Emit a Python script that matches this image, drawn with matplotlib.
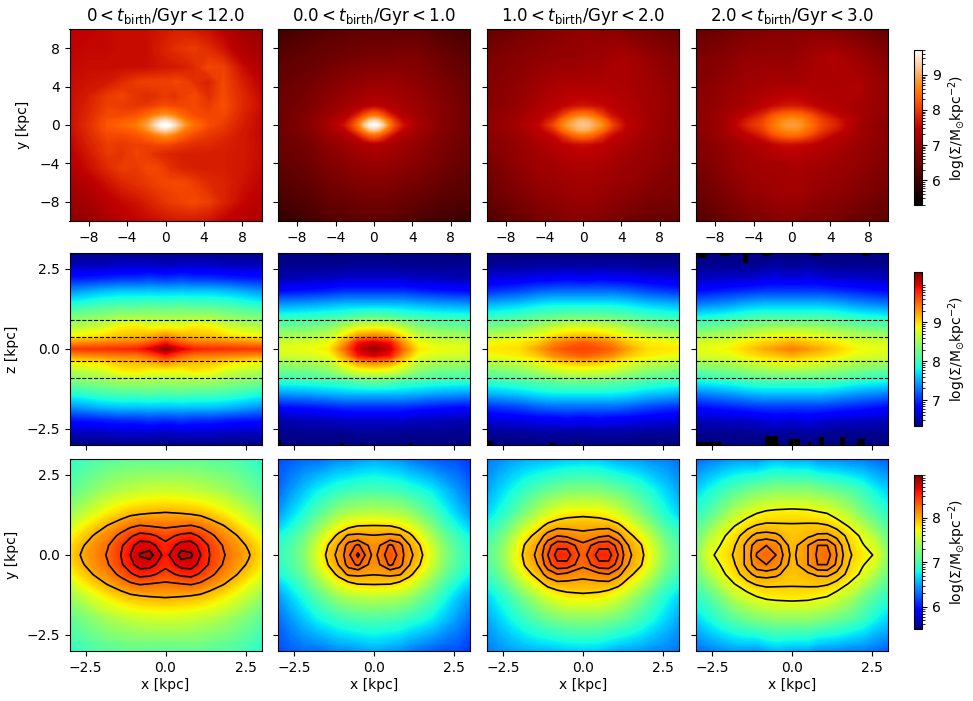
import numpy as np
import matplotlib
matplotlib.use("Agg")
import matplotlib.pyplot as plt
from matplotlib.cm import ScalarMappable
from matplotlib.colors import Normalize

W, H = 973, 701
col_left = [69.5, 278, 487, 696]
col_w = 192
row_top = [29, 253, 459]
row_h = 192

titles = [r"$0{<}t_{\rm birth}/{\rm Gyr}{<}12.0$", r"$0.0{<}t_{\rm birth}/{\rm Gyr}{<}1.0$",
          r"$1.0{<}t_{\rm birth}/{\rm Gyr}{<}2.0$", r"$2.0{<}t_{\rm birth}/{\rm Gyr}{<}3.0$"]
cbar_label = r"${\rm log}(\Sigma/{\rm M}_{\odot}{\rm kpc}^{-2})$"

# ---- top row: face-on maps, log surface density ----
xy_all = [-10, -8, -6, -4.5, -3, -2, -1, -0.5, 0, 0.5, 1, 2, 3, 4.5, 6, 8, 10]
yy_all = [10, 8, 6, 4.5, 3, 2, 1, 0.5, 0, -0.5, -1, -2, -3, -4.5, -6, -8, -10]
face_all = [
 [7.45,7.5,7.55,7.6,7.6,7.6,7.65,7.68,7.7,7.72,7.75,7.75,7.7,7.6,7.45,7.2,7.0],
 [7.5,7.55,7.55,7.6,7.6,7.6,7.7,7.75,7.8,7.85,7.9,7.95,8.0,7.85,7.65,7.3,7.15],
 [7.55,7.6,7.6,7.6,7.6,7.6,7.65,7.68,7.7,7.7,7.72,7.75,7.85,8.1,8.05,7.6,7.3],
 [7.6,7.65,7.7,7.85,8.0,8.05,8.05,8.05,8.05,8.05,8.1,8.05,7.9,7.78,8.1,7.75,7.45],
 [7.6,7.75,8.0,8.08,7.92,7.85,7.9,7.95,7.98,7.95,7.92,8.05,8.12,7.88,8.12,7.85,7.55],
 [7.6,7.8,8.05,8.0,7.95,7.98,8.05,8.1,8.12,8.1,8.08,8.08,8.1,7.98,8.18,7.85,7.6],
 [7.6,7.85,8.12,8.1,8.2,8.4,8.65,8.75,8.8,8.72,8.6,8.32,8.15,8.08,8.1,7.8,7.55],
 [7.6,7.88,8.18,8.25,8.4,8.7,9.1,9.3,9.4,9.25,9.05,8.6,8.3,8.12,8.05,7.78,7.55],
 [7.6,7.9,8.22,8.38,8.55,8.85,9.4,9.68,9.75,9.68,9.4,8.8,8.45,8.15,8.0,7.75,7.55],
 [7.58,7.88,8.18,8.25,8.4,8.7,9.1,9.3,9.4,9.25,9.05,8.55,8.3,8.05,7.95,7.72,7.55],
 [7.55,7.85,8.12,8.12,8.2,8.38,8.6,8.72,8.78,8.7,8.58,8.3,8.12,7.98,7.88,7.7,7.55],
 [7.5,7.78,8.02,7.98,8.05,8.05,8.1,8.1,8.1,8.08,8.02,7.95,7.88,7.85,7.78,7.7,7.58],
 [7.45,7.7,7.98,7.92,8.08,8.0,7.88,7.85,7.82,7.8,7.78,7.75,7.75,7.75,7.75,7.7,7.58],
 [7.35,7.6,7.85,8.02,7.98,8.1,8.1,8.05,7.98,7.9,7.85,7.78,7.75,7.75,7.75,7.7,7.55],
 [7.2,7.4,7.65,7.82,7.92,7.98,8.05,8.08,8.1,8.1,8.12,8.1,8.0,7.85,7.8,7.65,7.5],
 [7.05,7.2,7.42,7.55,7.65,7.75,7.85,7.9,7.95,8.0,8.02,8.08,8.12,8.02,7.8,7.55,7.4],
 [6.95,7.05,7.25,7.4,7.5,7.55,7.6,7.62,7.65,7.68,7.7,7.7,7.7,7.65,7.5,7.4,7.3],
]
xf = [-10, -7, -4.5, -3, -2, -1, -0.5, 0, 0.5, 1, 2, 3, 4.5, 7, 10]
yf = [10, 7, 4, 2, 1, 0.5, 0, -0.5, -1, -2, -4, -7, -10]
face_0_1 = [
 [6.0,6.2,6.35,6.35,6.4,6.42,6.42,6.42,6.42,6.42,6.42,6.42,6.4,6.25,6.1],
 [6.35,6.45,6.55,6.6,6.65,6.67,6.68,6.7,6.7,6.7,6.7,6.75,6.75,6.55,6.35],
 [6.5,6.62,6.85,6.95,7.0,7.05,7.08,7.1,7.1,7.1,7.1,7.05,6.95,6.75,6.5],
 [6.55,6.7,7.0,7.15,7.25,7.35,7.38,7.45,7.4,7.35,7.3,7.2,7.1,6.85,6.55],
 [6.55,6.8,7.1,7.35,7.65,8.15,8.4,8.5,8.4,8.15,7.65,7.35,7.15,6.85,6.55],
 [6.55,6.8,7.2,7.5,8.0,8.75,9.15,9.3,9.15,8.75,8.0,7.5,7.2,6.85,6.55],
 [6.55,6.8,7.25,7.65,8.2,9.2,9.6,9.7,9.6,9.2,8.2,7.65,7.25,6.85,6.5],
 [6.55,6.8,7.2,7.5,8.0,8.7,9.1,9.25,9.1,8.7,8.0,7.5,7.15,6.85,6.55],
 [6.55,6.75,7.1,7.3,7.6,8.1,8.35,8.45,8.35,8.1,7.6,7.3,7.1,6.8,6.55],
 [6.5,6.65,6.95,7.1,7.2,7.3,7.33,7.4,7.33,7.3,7.2,7.1,7.0,6.75,6.5],
 [6.4,6.55,6.8,6.9,7.0,7.0,7.03,7.05,7.05,7.05,7.0,6.95,6.85,6.65,6.45],
 [6.2,6.35,6.55,6.6,6.65,6.7,6.7,6.7,6.7,6.7,6.65,6.6,6.55,6.4,6.3],
 [5.8,6.05,6.25,6.3,6.35,6.38,6.38,6.38,6.38,6.38,6.35,6.3,6.2,6.05,5.95],
]
face_1_2 = [
 [6.45,6.6,6.75,6.85,6.9,6.95,6.95,6.95,6.95,6.95,6.9,6.9,6.8,6.65,6.5],
 [6.7,6.85,6.95,7.0,7.0,7.0,7.03,7.05,7.08,7.1,7.1,7.2,7.25,7.0,6.8],
 [6.8,6.95,7.15,7.25,7.3,7.3,7.3,7.3,7.3,7.3,7.3,7.3,7.25,7.15,6.9],
 [6.85,7.0,7.3,7.4,7.5,7.6,7.62,7.65,7.62,7.6,7.55,7.45,7.35,7.15,6.9],
 [6.9,7.1,7.4,7.65,8.05,8.45,8.55,8.6,8.55,8.45,8.05,7.65,7.4,7.15,6.9],
 [6.9,7.12,7.45,7.9,8.5,8.85,9.0,9.05,9.0,8.85,8.5,7.9,7.45,7.15,6.9],
 [6.9,7.15,7.55,8.1,8.7,9.0,9.15,9.2,9.15,9.0,8.7,8.1,7.5,7.15,6.85],
 [6.9,7.12,7.45,7.9,8.45,8.82,8.98,9.02,8.98,8.82,8.45,7.9,7.45,7.12,6.9],
 [6.85,7.05,7.4,7.6,8.0,8.4,8.5,8.55,8.5,8.4,8.0,7.6,7.4,7.1,6.9],
 [6.8,7.0,7.25,7.4,7.5,7.55,7.58,7.6,7.58,7.55,7.5,7.4,7.25,7.05,6.85],
 [6.65,6.95,7.15,7.2,7.25,7.3,7.3,7.3,7.3,7.3,7.25,7.2,7.1,7.0,6.8],
 [6.5,6.75,6.95,7.0,7.05,7.1,7.1,7.1,7.1,7.1,7.05,7.0,6.95,6.8,6.7],
 [6.2,6.45,6.65,6.75,6.8,6.85,6.85,6.85,6.85,6.85,6.8,6.7,6.6,6.5,6.45],
]
face_2_3 = [
 [6.45,6.6,6.75,6.8,6.85,6.85,6.85,6.85,6.85,6.85,6.85,6.85,6.8,6.65,6.4],
 [6.7,6.85,7.0,7.0,7.0,7.0,7.0,7.0,7.05,7.1,7.2,7.25,7.3,7.1,6.8],
 [6.8,7.0,7.15,7.2,7.25,7.25,7.25,7.25,7.25,7.25,7.25,7.25,7.25,7.3,6.95],
 [6.85,7.05,7.3,7.45,7.55,7.65,7.68,7.7,7.68,7.65,7.55,7.4,7.35,7.2,6.95],
 [6.85,7.15,7.55,7.85,8.2,8.4,8.45,8.48,8.45,8.4,8.15,7.85,7.55,7.2,6.9],
 [6.85,7.15,7.75,8.05,8.4,8.65,8.72,8.75,8.72,8.65,8.35,8.05,7.75,7.2,6.85],
 [6.8,7.15,7.85,8.1,8.5,8.75,8.82,8.85,8.82,8.75,8.45,8.1,7.8,7.15,6.8],
 [6.85,7.15,7.7,8.02,8.38,8.62,8.7,8.72,8.7,8.62,8.32,8.02,7.7,7.15,6.85],
 [6.8,7.15,7.5,7.8,8.15,8.35,8.42,8.45,8.42,8.35,8.1,7.8,7.5,7.15,6.85],
 [6.75,7.0,7.25,7.35,7.5,7.6,7.6,7.6,7.58,7.55,7.5,7.4,7.3,7.05,6.85],
 [6.65,6.95,7.15,7.2,7.2,7.2,7.22,7.25,7.25,7.25,7.2,7.2,7.1,7.0,6.75],
 [6.5,6.75,7.0,7.05,7.1,7.15,7.15,7.15,7.15,7.15,7.05,7.0,6.95,6.8,6.6],
 [6.2,6.5,6.7,6.75,6.8,6.85,6.85,6.85,6.82,6.8,6.75,6.7,6.65,6.5,6.4],
]

# ---- middle row: edge-on maps; the profile is read for x>=0, z>=0 ----
x_edge = [0, 0.5, 0.9, 1.4, 2, 3]
z_edge = [0, 0.2, 0.4, 0.7, 1, 1.4, 1.8, 2.2, 2.6, 3]
edge_all = [
 [10.25,9.95,9.8,9.75,9.72,9.68],
 [9.8,9.55,9.42,9.42,9.38,9.3],
 [9.35,9.2,9.15,9.12,9.0,8.88],
 [8.85,8.85,8.95,8.9,8.7,8.55],
 [8.5,8.5,8.5,8.5,8.4,8.3],
 [8.05,8.1,8.05,8.05,8.0,7.85],
 [7.6,7.6,7.6,7.6,7.55,7.4],
 [7.0,7.05,7.0,7.0,6.95,6.9],
 [6.55,6.6,6.6,6.6,6.55,6.55],
 [6.36,6.36,6.36,6.36,6.36,6.36],
]
edge_0_1 = [
 [10.2,10.0,9.5,8.95,8.85,8.8],
 [10.0,9.85,9.3,8.85,8.75,8.7],
 [9.4,9.3,9.0,8.65,8.55,8.5],
 [8.8,8.75,8.6,8.35,8.25,8.2],
 [8.2,8.15,8.05,8.0,7.95,7.9],
 [7.55,7.55,7.55,7.5,7.45,7.4],
 [7.0,7.0,7.0,6.95,6.9,6.85],
 [6.6,6.6,6.6,6.55,6.55,6.5],
 [6.42,6.42,6.4,6.4,6.4,6.4],
 [6.34,6.34,6.34,6.34,6.34,6.34],
]
edge_1_2 = [
 [9.65,9.6,9.5,9.25,9.0,8.95],
 [9.55,9.45,9.35,9.1,8.95,8.85],
 [9.15,9.1,9.0,8.85,8.7,8.6],
 [8.75,8.7,8.65,8.5,8.35,8.25],
 [8.25,8.25,8.2,8.15,8.05,7.95],
 [7.75,7.75,7.75,7.7,7.6,7.5],
 [7.25,7.25,7.25,7.2,7.1,7.0],
 [6.75,6.8,6.75,6.75,6.7,6.65],
 [6.45,6.45,6.45,6.45,6.42,6.42],
 [6.34,6.34,6.34,6.34,6.34,6.34],
]
edge_2_3 = [
 [9.4,9.3,9.2,9.05,8.9,8.8],
 [9.2,9.1,9.05,8.95,8.8,8.75],
 [8.9,8.85,8.8,8.7,8.6,8.5],
 [8.45,8.45,8.4,8.35,8.25,8.15],
 [8.05,8.05,8.05,8.0,7.9,7.8],
 [7.55,7.55,7.55,7.5,7.4,7.3],
 [7.05,7.05,7.05,7.0,6.95,6.85],
 [6.65,6.7,6.65,6.6,6.6,6.55],
 [6.42,6.45,6.42,6.4,6.4,6.4],
 [6.34,6.34,6.34,6.34,6.34,6.34],
]
z_cuts = [-0.9, -0.39, 0.39, 0.9]

# empty bins along the top and bottom edges of the edge-on maps: x centre, x width, depth in z
empty_top = [[],
             [(-1.3, 0.1, 0.07), (0.45, 0.1, 0.07), (2.6, 0.1, 0.07)],
             [],
             [(-2.8, 0.26, 0.15), (-2.1, 0.3, 0.1), (-1.44, 0.16, 0.3), (-0.8, 0.3, 0.08), (0.75, 0.3, 0.1), (2.3, 0.2, 0.08)]]
empty_bot = [[],
             [(-2.95, 0.1, 0.15), (-1.0, 0.1, 0.07), (-0.38, 0.08, 0.07), (1.15, 0.1, 0.05)],
             [(-2.9, 0.16, 0.12), (-0.95, 0.16, 0.07), (-0.2, 0.1, 0.05)],
             [(-2.58, 0.76, 0.1), (-0.64, 0.42, 0.28), (0.08, 0.36, 0.2), (0.55, 0.1, 0.1), (0.92, 0.16, 0.25), (1.58, 0.16, 0.25), (2.15, 0.26, 0.2)]]

# ---- bottom row: central face-on maps; rows are read for y>=0 ----
x_cen = [-3, -2.6, -2.2, -1.8, -1.4, -1.1, -0.8, -0.5, 0, 0.5, 0.8, 1.1, 1.4, 1.8, 2.2, 2.6, 3]
y_cen = [0, 0.3, 0.6, 0.9, 1.3, 2, 3]
cen_all = [
 [7.85,8.03,8.15,8.27,8.45,8.6,8.73,8.77,8.55,8.77,8.74,8.6,8.44,8.27,8.14,8.02,7.82],
 [7.8,7.98,8.12,8.24,8.42,8.56,8.66,8.66,8.5,8.66,8.66,8.56,8.42,8.24,8.1,7.97,7.78],
 [7.7,7.87,8.03,8.15,8.3,8.42,8.52,8.5,8.38,8.5,8.52,8.42,8.3,8.15,8.02,7.85,7.68],
 [7.55,7.73,7.88,8.02,8.14,8.22,8.27,8.25,8.22,8.25,8.27,8.22,8.14,8.02,7.87,7.7,7.52],
 [7.35,7.5,7.65,7.78,7.88,7.95,7.98,8.0,8.02,8.0,7.98,7.95,7.88,7.78,7.65,7.5,7.33],
 [7.1,7.2,7.3,7.4,7.47,7.5,7.54,7.56,7.58,7.56,7.54,7.5,7.47,7.4,7.3,7.2,7.08],
 [6.9,6.97,7.02,7.06,7.08,7.1,7.1,7.1,7.08,7.1,7.1,7.1,7.06,7.05,7.02,6.95,6.88],
]
cen_0_1 = [
 [6.9,7.05,7.25,7.6,7.95,8.08,8.25,8.38,8.13,8.34,8.24,8.08,7.95,7.62,7.28,7.05,6.9],
 [6.87,7.03,7.22,7.55,7.88,8.04,8.22,8.29,8.1,8.29,8.22,8.04,7.88,7.56,7.25,7.03,6.85],
 [6.78,6.95,7.13,7.42,7.72,7.92,8.06,8.07,8.04,8.07,8.05,7.92,7.72,7.42,7.15,6.95,6.75],
 [6.62,6.8,7.0,7.25,7.5,7.68,7.8,7.86,7.87,7.86,7.8,7.68,7.5,7.26,7.0,6.8,6.62],
 [6.45,6.65,6.83,7.05,7.22,7.35,7.43,7.47,7.5,7.47,7.43,7.35,7.22,7.05,6.83,6.63,6.45],
 [6.3,6.45,6.6,6.75,6.85,6.92,6.97,7.0,7.02,7.0,6.97,6.9,6.85,6.75,6.6,6.45,6.3],
 [6.2,6.25,6.3,6.3,6.35,6.4,6.4,6.45,6.5,6.45,6.42,6.35,6.3,6.25,6.2,6.2,6.1],
]
cen_1_2 = [
 [7.05,7.25,7.6,7.93,8.1,8.33,8.5,8.5,8.28,8.5,8.5,8.33,8.1,7.93,7.6,7.25,7.05],
 [7.03,7.22,7.55,7.88,8.06,8.28,8.42,8.42,8.24,8.42,8.42,8.28,8.06,7.88,7.55,7.22,7.03],
 [6.95,7.13,7.42,7.74,7.96,8.12,8.2,8.17,8.1,8.17,8.2,8.1,7.94,7.72,7.42,7.12,6.95],
 [6.83,7.0,7.25,7.52,7.76,7.93,8.0,8.0,8.0,8.0,8.0,7.92,7.75,7.5,7.25,7.0,6.83],
 [6.65,6.83,7.03,7.25,7.45,7.6,7.7,7.77,7.8,7.77,7.7,7.6,7.45,7.25,7.03,6.82,6.65],
 [6.5,6.65,6.8,6.95,7.07,7.15,7.2,7.25,7.27,7.25,7.2,7.15,7.07,6.95,6.8,6.65,6.5],
 [6.35,6.42,6.48,6.52,6.55,6.55,6.58,6.6,6.62,6.6,6.55,6.5,6.48,6.45,6.4,6.38,6.32],
]
cen_2_3 = [
 [7.25,7.65,7.77,7.9,8.03,8.21,8.27,8.2,7.97,8.1,8.22,8.25,8.1,7.9,7.78,7.68,7.3],
 [7.2,7.55,7.72,7.87,8.04,8.16,8.2,8.16,7.95,8.1,8.2,8.2,8.08,7.87,7.72,7.58,7.22],
 [7.15,7.42,7.65,7.82,7.96,8.04,8.05,8.03,7.92,7.98,8.02,8.03,7.97,7.83,7.65,7.42,7.13],
 [7.05,7.25,7.5,7.7,7.84,7.9,7.92,7.91,7.9,7.91,7.92,7.9,7.84,7.68,7.48,7.25,7.03],
 [6.9,7.05,7.25,7.48,7.62,7.7,7.76,7.78,7.8,7.78,7.74,7.7,7.6,7.45,7.22,7.05,6.88],
 [6.65,6.8,6.95,7.07,7.17,7.23,7.26,7.3,7.3,7.3,7.25,7.2,7.15,7.07,6.95,6.78,6.65],
 [6.3,6.35,6.4,6.45,6.45,6.42,6.5,6.55,6.5,6.5,6.42,6.4,6.4,6.35,6.35,6.3,6.25],
]
cen_levels = [[8.0,8.25,8.45,8.6,8.72],
              [7.85,8.03,8.17,8.27,8.36],
              [7.85,8.05,8.2,8.33,8.45],
              [7.7,7.88,8.0,8.1,8.2]]

top_range = (5.29, 9.71)
mid_range = (6.33, 10.3)
bot_range = (5.5, 8.96)


def new_axes(fig, left, top, w, h):
    return fig.add_axes([left / W, 1 - (top + h) / H, w / W, h / H])


def paint(ax, x, y, z, cmap, vr):
    x, y, z = np.asarray(x, float), np.asarray(y, float), np.asarray(z, float)
    if y[0] > y[-1]:
        y, z = y[::-1], z[::-1]
    levels = np.linspace(vr[0], vr[1], 300)
    return ax.contourf(x, y, z, levels=levels, cmap=cmap, extend="both",
                       norm=Normalize(*vr), antialiased=False)


def mirror_edge(z_tab):
    t = np.asarray(z_tab, float)
    right = np.hstack([t[:, :0:-1], t])
    return np.vstack([right[:0:-1], right])


def mirror_y(tab):
    t = np.asarray(tab, float)
    return np.vstack([t[:0:-1], t])


fig = plt.figure(figsize=(W / 100, H / 100), dpi=100)

# top row
top_tabs = [(xy_all, yy_all, face_all), (xf, yf, face_0_1), (xf, yf, face_1_2), (xf, yf, face_2_3)]
for i, (x, y, z) in enumerate(top_tabs):
    ax = new_axes(fig, col_left[i], row_top[0], col_w, row_h)
    paint(ax, x, y, z, "gist_heat", top_range)
    ax.set_xlim(-10, 10); ax.set_ylim(-10, 10)
    ax.set_xticks([-8, -4, 0, 4, 8]); ax.set_yticks([-8, -4, 0, 4, 8])
    ax.set_title(titles[i], fontsize=12, pad=6)
    if i == 0:
        ax.set_ylabel("y [kpc]")
        ax.yaxis.set_label_coords(-0.206, 0.5)
    else:
        ax.set_yticklabels([])

# middle row
xe = np.array(x_edge, float); ze = np.array(z_edge, float)
xe_full = np.concatenate([-xe[:0:-1], xe]); ze_full = np.concatenate([-ze[:0:-1], ze])
for i, tab in enumerate([edge_all, edge_0_1, edge_1_2, edge_2_3]):
    ax = new_axes(fig, col_left[i], row_top[1], col_w, row_h)
    paint(ax, xe_full, ze_full, mirror_edge(tab), "jet", mid_range)
    for xc, wd, dp in empty_top[i]:
        ax.bar(xc, dp, width=wd, bottom=3 - dp, color="k", linewidth=0)
    for xc, wd, dp in empty_bot[i]:
        ax.bar(xc, dp, width=wd, bottom=-3, color="k", linewidth=0)
    for zc in z_cuts:
        ax.axhline(zc, color="k", ls="--", lw=0.8)
    ax.set_xlim(-3, 3); ax.set_ylim(-3, 3)
    ax.set_xticks([-2.5, 0, 2.5]); ax.set_yticks([-2.5, 0, 2.5])
    ax.set_xticklabels([])
    if i == 0:
        ax.set_yticklabels(["\u22122.5", "0.0", "2.5"])
        ax.set_ylabel("z [kpc]")
        ax.yaxis.set_label_coords(-0.265, 0.5)
    else:
        ax.set_yticklabels([])

# bottom row
yc = np.array(y_cen, float)
yc_full = np.concatenate([-yc[:0:-1], yc])
for i, tab in enumerate([cen_all, cen_0_1, cen_1_2, cen_2_3]):
    ax = new_axes(fig, col_left[i], row_top[2], col_w, row_h)
    z = mirror_y(tab)
    paint(ax, x_cen, yc_full, z, "jet", bot_range)
    ax.contour(x_cen, yc_full, z, levels=cen_levels[i], colors="k", linewidths=1.2)
    ax.set_xlim(-3, 3); ax.set_ylim(-3, 3)
    ax.set_xticks([-2.5, 0, 2.5]); ax.set_yticks([-2.5, 0, 2.5])
    ax.set_xticklabels(["\u22122.5", "0.0", "2.5"])
    ax.set_xlabel("x [kpc]", labelpad=2)
    if i == 0:
        ax.set_yticklabels(["\u22122.5", "0.0", "2.5"])
        ax.set_ylabel("y [kpc]")
        ax.yaxis.set_label_coords(-0.265, 0.5)
    else:
        ax.set_yticklabels([])

# colorbars
bars = [(50, 155, "gist_heat", top_range, [6, 7, 8, 9]),
        (272, 154, "jet", mid_range, [7, 8, 9]),
        (475, 154, "jet", bot_range, [6, 7, 8])]
for top, h, cmap, vr, ticks in bars:
    cax = new_axes(fig, 914, top, 8, h)
    cb = fig.colorbar(ScalarMappable(Normalize(*vr), cmap), cax=cax)
    cb.set_ticks(ticks)
    minor = [t + np.log10(k) for t in range(int(vr[0]) - 1, int(vr[1]) + 1) for k in range(2, 10)]
    minor = [m for m in minor if vr[0] < m < vr[1]]
    cax.yaxis.set_ticks(minor, minor=True)
    cb.set_label(cbar_label, fontsize=10)

fig.savefig("out.png", dpi=100)
